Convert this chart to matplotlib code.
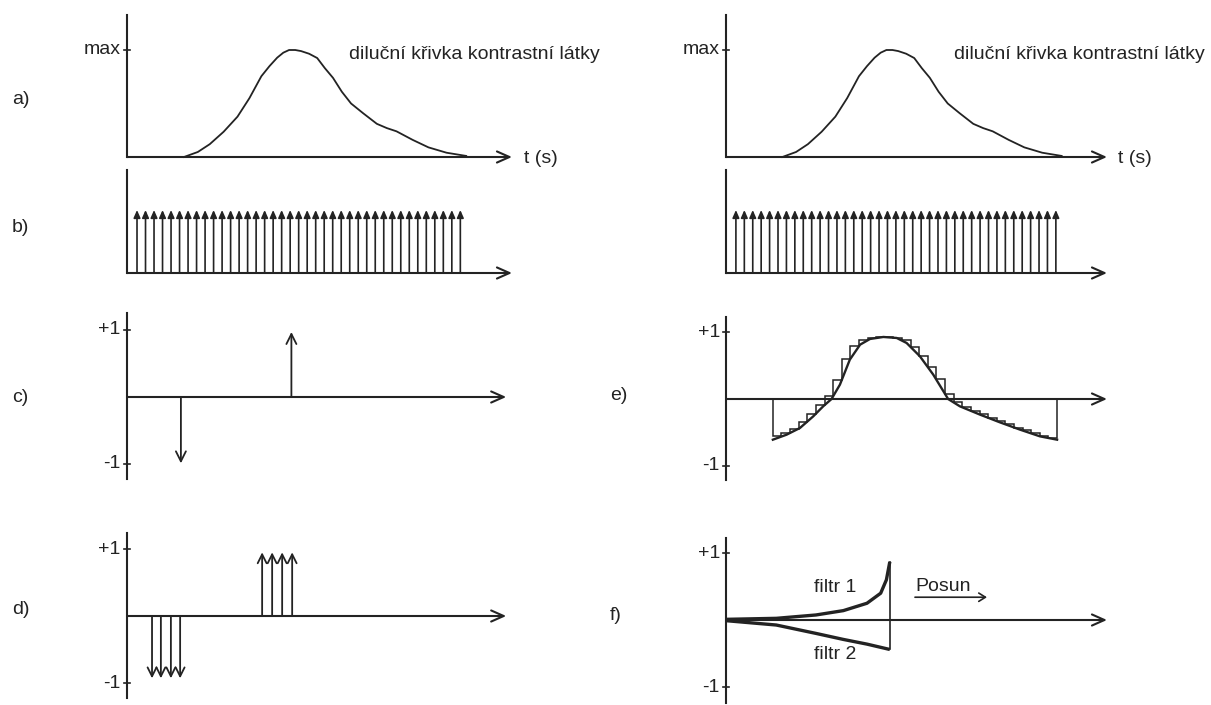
import numpy as np
import matplotlib
matplotlib.use("Agg")
import matplotlib.pyplot as plt

plt.rcParams["font.family"] = ["Liberation Sans", "DejaVu Sans"]
plt.rcParams["font.size"] = 14

INK = "#232323"

# a) dilution curve of the contrast agent (t in % of the time axis, value relative to max)
DIL_T = [14.8, 18.4, 21.5, 25.1, 28.7, 31.8, 34.9, 37.0, 39.0, 40.6, 42.1, 43.7, 45.2,
         47.3, 49.4, 51.4, 53.5, 55.8, 58.2, 61.3, 64.9, 67.5, 70.0, 74.2, 78.3, 83.0, 88.1]
DIL_V = [0.0, 0.047, 0.12, 0.236, 0.377, 0.55, 0.755, 0.849, 0.928, 0.975, 1.0, 1.0, 0.99,
         0.965, 0.925, 0.83, 0.74, 0.61, 0.50, 0.41, 0.31, 0.27, 0.24, 0.16, 0.09, 0.04, 0.01]

# b) sampling pulse train
PULSE_FIRST = 2.6
PULSE_STEP = 2.21
PULSE_COUNT = 39

# c) single negative / positive impulse
C_T = [14.0, 42.7]
C_V = [-0.99, 0.97]

# d) groups of four impulses
D_NEG_T = [6.5, 8.8, 11.4, 13.8]
D_POS_T = [35.1, 37.7, 40.3, 42.9]
D_NEG_V = -0.93
D_POS_V = 0.95

# e) correlation curve and its staircase approximation
E_T = [12.3, 15.9, 19.4, 22.9, 25.5, 27.7, 29.9, 32.5, 35.2, 37.8, 41.3, 44.8, 47.4,
       50.9, 54.4, 58.3, 61.4, 66.7, 71.9, 77.2, 82.4, 86.9]
E_V = [-0.61, -0.535, -0.435, -0.26, -0.11, 0.0, 0.215, 0.59, 0.815, 0.90, 0.93, 0.915,
       0.84, 0.64, 0.365, 0.0, -0.11, -0.235, -0.35, -0.46, -0.56, -0.61]
STEP_START = 12.3
STEP_WIDTH = 2.26
STEP_LEVELS = [-0.56, -0.51, -0.445, -0.35, -0.23, -0.09, 0.04, 0.28, 0.60, 0.80, 0.885,
               0.92, 0.93, 0.93, 0.92, 0.88, 0.78, 0.65, 0.48, 0.30, 0.07, -0.05, -0.125,
               -0.18, -0.23, -0.28, -0.33, -0.38, -0.43, -0.47, -0.515, -0.56, -0.585]

# f) filters
F1_T = [0, 13.2, 23.6, 30.8, 37.0, 40.6, 42.1, 43.0]
F1_V = [0.01, 0.025, 0.075, 0.14, 0.25, 0.40, 0.60, 0.87]
F2_T = [0, 13.2, 23.6, 30.8, 37.0, 43.0]
F2_V = [-0.01, -0.075, -0.2, -0.29, -0.36, -0.44]

TITLE = "diluční křivka kontrastní látky"

W, H = 1211, 705
fig = plt.figure(figsize=(W / 100, H / 100), dpi=100)


def panel(ox, oy, sx, sy, ylim, xlim=(-4, 106)):
    # ox, oy: pixel position of the origin, sx, sy: pixels per data unit
    left = (ox + xlim[0] * sx) / W
    width = (xlim[1] - xlim[0]) * sx / W
    bottom = (H - oy + ylim[0] * sy) / H
    height = (ylim[1] - ylim[0]) * sy / H
    ax = fig.add_axes([left, bottom, width, height])
    ax.set_xlim(xlim)
    ax.set_ylim(ylim)
    ax.axis("off")
    return ax


def axes_lines(ax, ybot, ytop, end=100):
    ax.plot([0, 0], [ybot, ytop], color=INK, lw=1.5)
    ax.annotate("", xy=(end, 0), xytext=(0, 0),
                arrowprops=dict(arrowstyle="->,head_length=0.45,head_width=0.2",
                                mutation_scale=20, lw=1.5, color=INK,
                                shrinkA=0, shrinkB=0))


def tick(ax, v, label):
    ax.plot([-0.8, 0.8], [v, v], color=INK, lw=1.2)
    ax.text(-1.6, v, label, ha="right", va="center", color=INK)


def arrow(ax, t, v0, v1, style="->,head_length=0.4,head_width=0.2", ms=18, lw=1.3):
    ax.annotate("", xy=(t, v1), xytext=(t, v0),
                arrowprops=dict(arrowstyle=style, mutation_scale=ms, lw=lw, color=INK,
                                shrinkA=0, shrinkB=0))


columns = [(127, 3.85), (726, 3.81)]
title_t = [57.7, 59.8]

for i, (ox, sx) in enumerate(columns):
    # a)
    ax = panel(ox, 157, sx, 107, (-0.12, 1.4))
    axes_lines(ax, 0, 1.33)
    tick(ax, 1.0, "max")
    ax.plot(DIL_T, DIL_V, color=INK, lw=1.3)
    ax.text(title_t[i], 0.96, TITLE, ha="left", va="center", color=INK)
    ax.text(103.0, -0.01, "t (s)", ha="left", va="center", color=INK)

    # b)
    ax = panel(ox, 273, sx, 63, (-0.15, 1.7))
    axes_lines(ax, 0, 1.63)
    pulses = PULSE_FIRST + PULSE_STEP * np.arange(PULSE_COUNT)
    for t in pulses:
        arrow(ax, t, 0, 1.0, style="-|>,head_length=0.5,head_width=0.22", ms=9, lw=1.2)

# c)
ax = panel(127, 397, 3.85, 67, (-1.3, 1.3))
axes_lines(ax, -1.22, 1.25, end=98.5)
tick(ax, 1.0, "+1")
tick(ax, -1.0, "-1")
for t, v in zip(C_T, C_V):
    arrow(ax, t, 0, v)

# d)
ax = panel(127, 616, 3.85, 67, (-1.3, 1.3))
axes_lines(ax, -1.22, 1.24, end=98.5)
tick(ax, 1.0, "+1")
tick(ax, -1.0, "-1")
for t in D_NEG_T:
    arrow(ax, t, 0, D_NEG_V, ms=16)
for t in D_POS_T:
    arrow(ax, t, 0, D_POS_V, ms=16)

# e)
ax = panel(726, 399, 3.81, 66.7, (-1.3, 1.3))
axes_lines(ax, -1.22, 1.23)
tick(ax, 1.0, "+1")
tick(ax, -1.0, "-1")
ax.plot(E_T, E_V, color=INK, lw=1.7)
edges = STEP_START + STEP_WIDTH * np.arange(len(STEP_LEVELS) + 1)
ax.stairs(STEP_LEVELS, edges, baseline=0, color=INK, lw=1.1)

# f)
ax = panel(726, 620, 3.81, 67, (-1.3, 1.3))
axes_lines(ax, -1.24, 1.22)
tick(ax, 1.0, "+1")
tick(ax, -1.0, "-1")
ax.plot(F1_T, F1_V, color=INK, lw=2.4, solid_capstyle="butt")
ax.plot(F2_T, F2_V, color=INK, lw=2.4, solid_capstyle="butt")
ax.plot([F1_T[-1], F1_T[-1]], [F2_V[-1], F1_V[-1]], color=INK, lw=1.2)
ax.text(28.6, 0.48, "filtr 1", ha="center", va="center", color=INK)
ax.text(28.6, -0.52, "filtr 2", ha="center", va="center", color=INK)
ax.text(49.6, 0.50, "Posun", ha="left", va="center", color=INK)
ax.annotate("", xy=(68.5, 0.34), xytext=(49.6, 0.34),
            arrowprops=dict(arrowstyle="->,head_length=0.4,head_width=0.25",
                            mutation_scale=12, lw=1.2, color=INK, shrinkA=0, shrinkB=0))

# panel letters
for label, px, py in [("a)", 12, 100), ("b)", 12, 228), ("c)", 12, 397), ("d)", 12, 610),
                      ("e)", 610, 395), ("f)", 610, 615)]:
    fig.text(px / W, 1 - py / H, label, ha="left", va="center", color=INK)

fig.savefig("out.png", dpi=100, facecolor="white")
